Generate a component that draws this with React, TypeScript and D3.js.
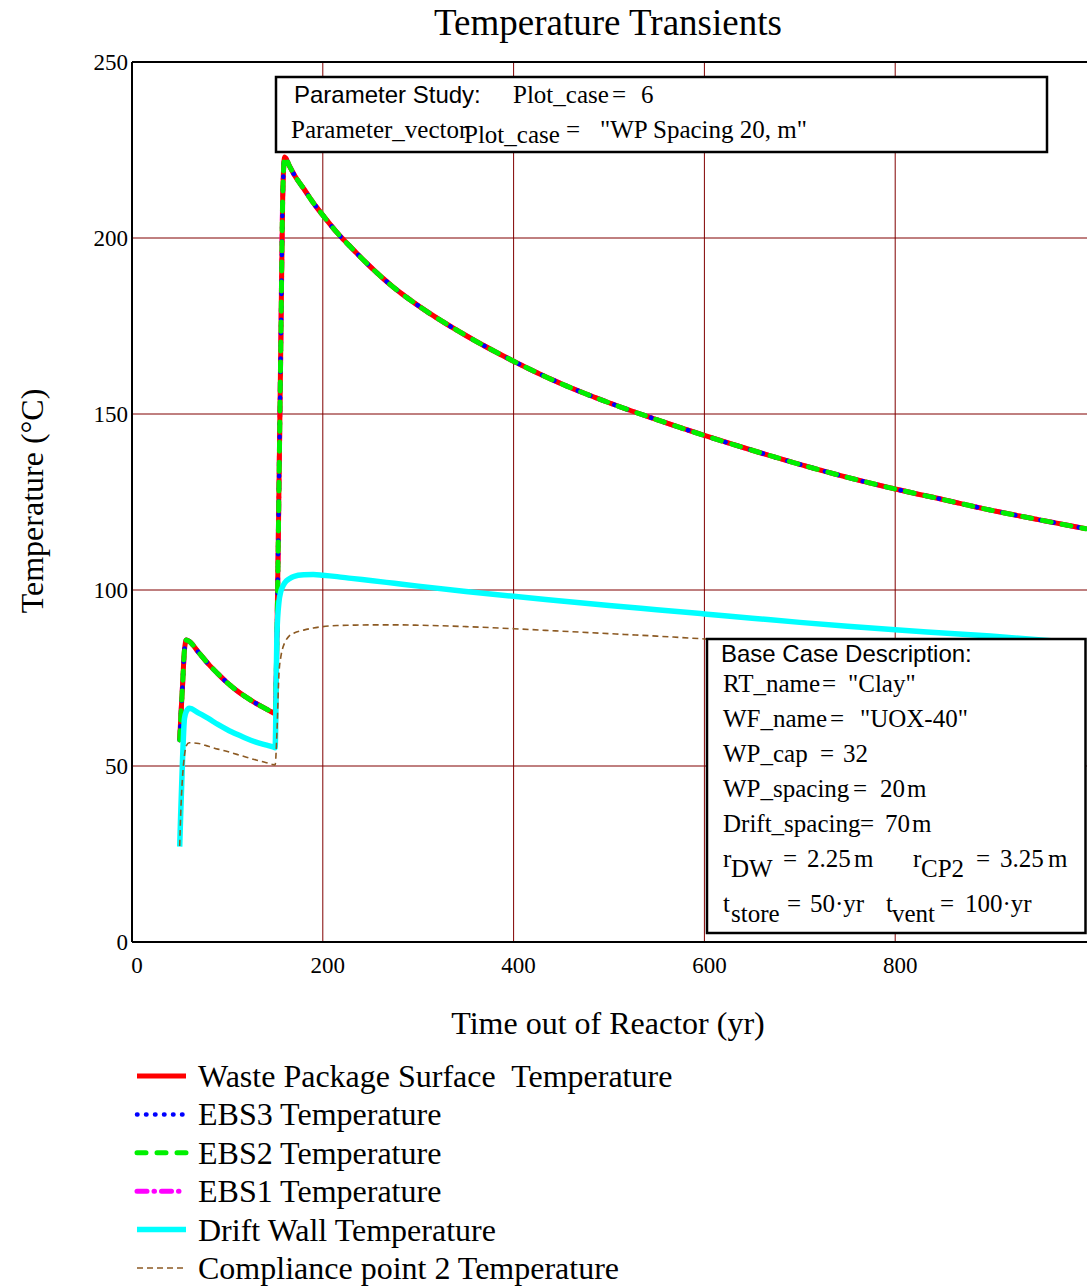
import React from 'react';
import * as d3 from 'd3';

// time out of reactor (yr)
const timeYr = [50, 51, 53, 55, 57, 60, 70, 80, 90, 100, 110, 120, 130, 140, 148, 150,
    152, 154, 156, 158, 160, 165, 170, 180, 190, 200, 215, 230, 250, 275, 300,
    350, 400, 450, 500, 550, 600, 650, 700, 750, 800, 850, 900, 950, 1000];

// temperatures (degC)
const wpSurfaceTemp = [57.4, 63, 73, 83, 85.8, 85.4, 82.2, 79, 76.2, 73.6, 71.4, 69.5, 67.8, 66.3, 65.1, 64.8,
    88, 128, 170, 212, 223, 220.5, 218, 214, 210, 206.5, 201.5, 197.2, 191.8, 185.8, 180.8,
    172.3, 165, 158.6, 153.2, 148.4, 143.9, 139.7, 135.7, 132.0, 128.7, 125.7, 122.7, 120.0, 117.4];
// EBS layers sit right on top of the package surface curve
const ebs3Temp = wpSurfaceTemp;
const ebs2Temp = wpSurfaceTemp;
const ebs1Temp = wpSurfaceTemp;
const driftWallTemp = [27.1, 36, 52, 63.5, 65.5, 66.4, 65, 63.5, 61.8, 60.3, 59, 57.8, 56.8, 56, 55.4, 55.2,
    88, 96.5, 99.6, 101, 102, 103.2, 103.9, 104.3, 104.4, 104.2, 103.8, 103.3, 102.7, 101.9, 101.1,
    99.6, 98.2, 96.9, 95.6, 94.4, 93.2, 92.0, 90.8, 89.7, 88.7, 87.8, 86.9, 85.9, 84.8];
const cp2Temp = [27.3, 36, 47, 53, 55.8, 56.6, 56.4, 55.6, 54.8, 54.1, 53.3, 52.5, 51.7, 51, 50.4, 50.3,
    60, 76, 81, 83.5, 85, 87, 87.8, 88.6, 89.2, 89.6, 89.9, 90, 90.1, 90.1, 90,
    89.6, 89.0, 88.3, 87.6, 86.9, 86.1, 85.3, 84.5, 83.7, 82.9, 82.1, 81.3, 80.5, 79.7];

const yTicks = [0, 50, 100, 150, 200, 250];
const xTicks = [0, 200, 400, 600, 800];

const serif = '"Liberation Serif", "Times New Roman", serif';
const sans = '"Liberation Sans", Arial, sans-serif';

const series = [
    {name: 'Waste Package Surface  Temperature', values: wpSurfaceTemp, color: '#FF0000', width: 5, dash: null, legendDash: null, cap: 'butt', order: 1},
    {name: 'EBS3 Temperature', values: ebs3Temp, color: '#0000FF', width: 4.5, dash: '0.5,12.5', legendDash: '0.5,8.5', cap: 'round', order: 2},
    {name: 'EBS2 Temperature', values: ebs2Temp, color: '#00F000', width: 5, dash: '9,11', legendDash: '9,11', cap: 'round', order: 3},
    {name: 'EBS1 Temperature', values: ebs1Temp, color: '#FF00FF', width: 5, dash: '10,7,0.5,7', legendDash: '10,7,0.5,7', cap: 'round', order: 0},
    {name: 'Drift Wall Temperature', values: driftWallTemp, color: '#00FFFF', width: 5.5, dash: null, legendDash: null, cap: 'butt', order: 4},
    {name: 'Compliance point 2 Temperature', values: cp2Temp, color: '#8C5A23', width: 1.6, dash: '6,4', legendDash: '6,4', cap: 'butt', order: 5},
];

const x = d3.scaleLinear().domain([0, 1000]).range([132, 1086]);
const y = d3.scaleLinear().domain([0, 250]).range([942, 62]);

const line = d3.line<number>()
    .x((d, i) => x(timeYr[i]))
    .y((d) => y(d))
    .curve(d3.curveMonotoneX);

const App = () => {
    const drawOrder = [...series].sort((a, b) => a.order - b.order);
    const [x0, x1] = x.range();
    const [y0, y1] = y.range();

    return (
        <svg width={1087} height={1287} style={{position: 'absolute', left: 0, top: 0, background: '#fff'}}>
            <defs>
                <clipPath id="plotClip">
                    <rect x={x0} y={y1} width={x1 - x0 + 2} height={y0 - y1}/>
                </clipPath>
            </defs>

            <text x={608} y={35} textAnchor="middle" fontFamily={serif} fontSize={37}>Temperature Transients</text>

            {/* grid */}
            {yTicks.filter(t => t > 0 && t < 250).map(t => (
                <line key={'gy' + t} x1={x0} x2={1087} y1={y(t)} y2={y(t)} stroke="#800000" strokeWidth={1}/>
            ))}
            {xTicks.filter(t => t > 0).map(t => (
                <line key={'gx' + t} x1={x(t)} x2={x(t)} y1={y1} y2={y0} stroke="#800000" strokeWidth={1}/>
            ))}

            {/* curves */}
            <g clipPath="url(#plotClip)">
                {drawOrder.map(s => (
                    <path key={s.name} d={line(s.values) || ''} fill="none" stroke={s.color}
                          strokeWidth={s.width} strokeDasharray={s.dash || undefined}
                          strokeLinecap={s.cap as any} strokeLinejoin="round"/>
                ))}
            </g>

            {/* frame */}
            <line x1={x0} x2={x0} y1={y1} y2={y0} stroke="#000" strokeWidth={2}/>
            <line x1={x0} x2={1087} y1={y0} y2={y0} stroke="#000" strokeWidth={2}/>
            <line x1={x0} x2={1087} y1={y1} y2={y1} stroke="#000" strokeWidth={2}/>

            {/* tick labels */}
            {yTicks.map(t => (
                <text key={'ty' + t} x={128} y={y(t) + 8} textAnchor="end" fontFamily={serif} fontSize={23}>{t}</text>
            ))}
            {xTicks.map(t => (
                <text key={'tx' + t} x={x(t) + 5} y={973} textAnchor="middle" fontFamily={serif} fontSize={23}>{t}</text>
            ))}

            <text x={608} y={1034} textAnchor="middle" fontFamily={serif} fontSize={32}>Time out of Reactor (yr)</text>
            <text transform="translate(43,501) rotate(-90)" textAnchor="middle" fontFamily={serif} fontSize={32}>Temperature (°C)</text>

            {/* parameter study box */}
            <rect x={276} y={77} width={771} height={75} fill="#fff" stroke="#000" strokeWidth={2.5}/>
            <g fontFamily={serif} fontSize={25}>
                <text x={294} y={103} fontFamily={sans} fontSize={24}>Parameter Study:</text>
                <text x={513} y={103}>Plot_case</text>
                <text x={612} y={103}>=</text>
                <text x={641} y={103}>6</text>
                <text x={291} y={138}>Parameter_vector</text>
                <text x={464} y={143}>Plot_case</text>
                <text x={566} y={138}>=</text>
                <text x={600} y={138}>"WP Spacing 20, m"</text>
            </g>

            {/* base case box */}
            <rect x={707} y={639} width={378.5} height={294} fill="#fff" stroke="#000" strokeWidth={2.5}/>
            <g fontFamily={serif} fontSize={25}>
                <text x={721} y={662} fontFamily={sans} fontSize={24}>Base Case Description:</text>
                <text x={723} y={692}>RT_name</text><text x={822} y={692}>=</text><text x={848} y={692}>"Clay"</text>
                <text x={723} y={727}>WF_name</text><text x={830} y={727}>=</text><text x={860} y={727}>"UOX-40"</text>
                <text x={723} y={762}>WP_cap</text><text x={820} y={762}>=</text><text x={843} y={762}>32</text>
                <text x={723} y={797}>WP_spacing</text><text x={853} y={797}>=</text><text x={880} y={797}>20</text><text x={907} y={797}>m</text>
                <text x={723} y={832}>Drift_spacing</text><text x={860} y={832}>=</text><text x={885} y={832}>70</text><text x={912} y={832}>m</text>
                <text x={723} y={867}>r</text><text x={731} y={877}>DW</text><text x={783} y={867}>=</text>
                <text x={807} y={867}>2.25</text><text x={854} y={867}>m</text>
                <text x={913} y={867}>r</text><text x={921} y={877}>CP2</text><text x={976} y={867}>=</text>
                <text x={1000} y={867}>3.25</text><text x={1048} y={867}>m</text>
                <text x={723} y={912}>t</text><text x={731} y={922}>store</text><text x={787} y={912}>=</text>
                <text x={810} y={912}>50·yr</text>
                <text x={886} y={912}>t</text><text x={892} y={922}>vent</text><text x={940} y={912}>=</text>
                <text x={965} y={912}>100·yr</text>
            </g>

            {/* legend */}
            {series.map((s, i) => {
                const ly = 1076 + i * 38.4;
                return (
                    <g key={'lg' + s.name}>
                        <line x1={137} x2={186} y1={ly} y2={ly} stroke={s.color} strokeWidth={s.width}
                              strokeDasharray={s.legendDash || undefined} strokeLinecap={s.cap as any}/>
                        <text x={198} y={ly + 11} fontFamily={serif} fontSize={32} style={{whiteSpace: 'pre'}}>{s.name}</text>
                    </g>
                );
            })}
        </svg>
    );
};

export default App;
